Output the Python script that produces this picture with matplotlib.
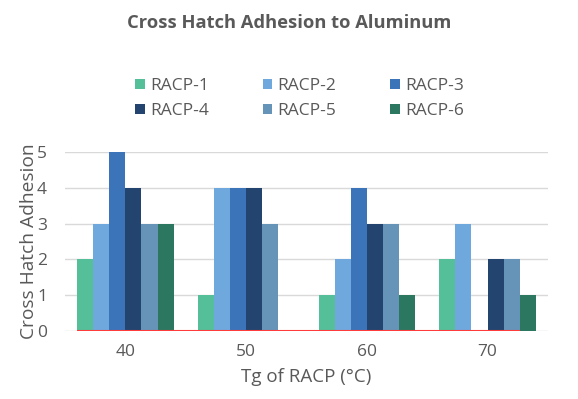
import numpy as np
import matplotlib
matplotlib.use("Agg")
import matplotlib.pyplot as plt

plt.rcParams["font.family"] = ["Open Sans", "DejaVu Sans"]

categories = ["40", "50", "60", "70"]
series_names = ["RACP-1", "RACP-2", "RACP-3", "RACP-4", "RACP-5", "RACP-6"]
racp1 = [2, 1, 1, 2]
racp2 = [3, 4, 2, 3]
racp3 = [5, 4, 4, 0]
racp4 = [4, 4, 3, 2]
racp5 = [3, 3, 3, 2]
racp6 = [3, 0, 1, 1]
series = [racp1, racp2, racp3, racp4, racp5, racp6]

colors = ["#55bf9a", "#6fa8dc", "#3c74ba", "#23446f", "#6693b8", "#2c7760"]
grey = "#595959"

fig = plt.figure(figsize=(5.78, 3.99), dpi=100)
ax = fig.add_axes([0.1125, 0.1704, 0.8355, 0.4486])

x = np.arange(len(categories))
group = 0.8
w = group / len(series)
handles = []
for i, (name, vals) in enumerate(zip(series_names, series)):
    b = ax.bar(x - group / 2 + w * (i + 0.5), vals, width=w, color=colors[i],
               label=name, zorder=3)
    handles.append(b)

# red baseline drawn over the bars
ax.plot([x[0] - group / 2, x[-1] - group / 2 + 5 * w], [0, 0], color="#ff3b3b",
        lw=1.5, zorder=4, solid_capstyle="butt")

ax.set_xlim(-0.5, len(categories) - 0.5)
ax.set_ylim(0, 5)
ax.set_yticks(range(6))
ax.set_xticks(x)
ax.set_xticklabels(categories)
ax.yaxis.grid(True, color="#d9d9d9", lw=1, zorder=0)
for s in ax.spines.values():
    s.set_visible(False)
ax.tick_params(length=0, colors=grey, labelsize=12.5)
ax.tick_params(axis="x", pad=9)
ax.tick_params(axis="y", pad=13)

ax.set_xlabel("Tg of RACP (°C)", color=grey, fontsize=13.5, labelpad=6)
ax.set_ylabel("Cross Hatch Adhesion", color=grey, fontsize=13.8, labelpad=-1)

fig.suptitle("Cross Hatch Adhesion to Aluminum", x=0.5, y=0.965, fontsize=13.2,
             fontweight="bold", color=grey)

order = [0, 3, 1, 4, 2, 5]
leg = fig.legend([handles[k] for k in order], [series_names[k] for k in order],
                 ncol=3, loc="center", bbox_to_anchor=(0.518, 0.753),
                 frameon=False, fontsize=12.5, handlelength=0.55, handleheight=0.55,
                 handletextpad=0.3, columnspacing=3.1, labelspacing=0.5)
for t in leg.get_texts():
    t.set_color(grey)

fig.savefig("out.png", dpi=100)
